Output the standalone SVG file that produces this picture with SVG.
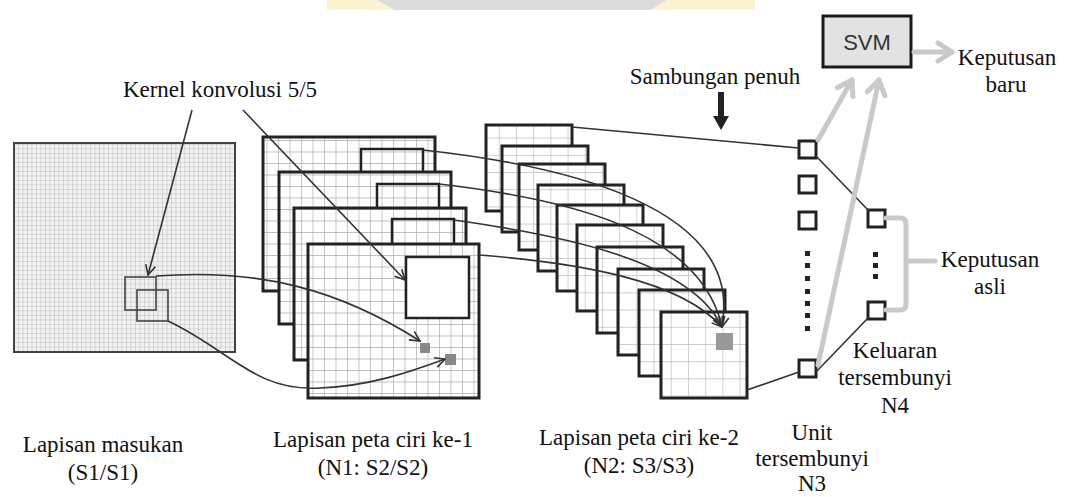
<svg xmlns="http://www.w3.org/2000/svg" width="1065" height="497" viewBox="0 0 1065 497">
<style>
.t{font-family:"Liberation Serif","Times New Roman",serif;font-size:23px;fill:#111;text-anchor:middle}
.frame{fill:none;stroke:#222;stroke-width:3}
.bg{fill:#fff}
.thin{fill:none;stroke:#333;stroke-width:1.6}
.grey{fill:none;stroke:#c9c9c9;stroke-width:5;stroke-linecap:round;stroke-linejoin:round}
.unit{fill:#fff;stroke:#222;stroke-width:3}
.dot{fill:#222}
</style>
<defs>
<pattern id="gFine" width="4.5" height="4.5" patternUnits="userSpaceOnUse"><rect width="4.5" height="4.5" fill="#f2f2f2"/><path d="M0,0V4.5M0,0H4.5" stroke="#b8b8b8" stroke-width="1"/></pattern>
<pattern id="gMid" width="11.5" height="11.5" patternUnits="userSpaceOnUse" x="2" y="2"><rect width="11.5" height="11.5" fill="#fff"/><path d="M0,0V11.5M0,0H11.5" stroke="#aaa" stroke-width="1.3"/></pattern>
<pattern id="gBig" width="17.2" height="17.2" patternUnits="userSpaceOnUse"><rect width="17.2" height="17.2" fill="#fff"/><path d="M0,0V17.2M0,0H17.2" stroke="#bbb" stroke-width="1.3"/></pattern>
<marker id="ah" viewBox="0 0 12 12" refX="11" refY="6" markerWidth="12" markerHeight="12" markerUnits="userSpaceOnUse" orient="auto"><path d="M1,1 L11,6 L1,11" fill="none" stroke="#333" stroke-width="1.6"/></marker>
<marker id="gh" viewBox="0 0 24 24" refX="19" refY="12" markerWidth="24" markerHeight="24" markerUnits="userSpaceOnUse" orient="auto"><path d="M5,3 L19,12 L5,21" fill="none" stroke="#c9c9c9" stroke-width="5" stroke-linecap="round" stroke-linejoin="round"/></marker>
</defs>
<rect width="1065" height="497" fill="#fff"/>
<g id="watermark">
<rect x="327" y="0" width="428" height="10" fill="#fbf3cf"/>
<path d="M377,0 H667 L650,10 H395 Z" fill="#dcdcdc"/>
</g>
<g id="input-layer">
<rect x="14" y="143" width="221" height="209" fill="url(#gFine)"/>
<rect x="14" y="143" width="221" height="209" fill="none" stroke="#444" stroke-width="2"/>
<rect x="125" y="277" width="31" height="33" fill="none" stroke="#444" stroke-width="1.6"/>
<rect x="137" y="290" width="31" height="31" fill="none" stroke="#444" stroke-width="1.6"/>
</g>
<g id="feature-map-1">
<rect x="263" y="137" width="172" height="154" fill="url(#gMid)"/><rect x="263" y="137" width="172" height="154" class="frame"/><rect x="361" y="149" width="62" height="61" fill="none" stroke="#222" stroke-width="2.5"/>
<rect x="279" y="172" width="172" height="152" fill="url(#gMid)"/><rect x="279" y="172" width="172" height="152" class="frame"/><rect x="377" y="184" width="62" height="61" fill="none" stroke="#222" stroke-width="2.5"/>
<rect x="294" y="208" width="172" height="152" fill="url(#gMid)"/><rect x="294" y="208" width="172" height="152" class="frame"/><rect x="392" y="219" width="62" height="61" fill="none" stroke="#222" stroke-width="2.5"/>
<rect x="308" y="244" width="171" height="154" fill="url(#gMid)"/><rect x="308" y="244" width="171" height="154" class="frame"/><rect x="406" y="257" width="63" height="61" fill="#fff" stroke="#222" stroke-width="2.5"/>
<rect x="420" y="343" width="10" height="10" fill="#888"/>
<rect x="445" y="354" width="11" height="11" fill="#888"/>
</g>
<g id="feature-map-2">
<rect x="486" y="125" width="86" height="86" fill="url(#gBig)"/><rect x="486" y="125" width="86" height="86" class="frame"/>
<rect x="502" y="146" width="86" height="86" fill="url(#gBig)"/><rect x="502" y="146" width="86" height="86" class="frame"/>
<rect x="519" y="164" width="86" height="86" fill="url(#gBig)"/><rect x="519" y="164" width="86" height="86" class="frame"/>
<rect x="538" y="185" width="86" height="86" fill="url(#gBig)"/><rect x="538" y="185" width="86" height="86" class="frame"/>
<rect x="557" y="205" width="86" height="86" fill="url(#gBig)"/><rect x="557" y="205" width="86" height="86" class="frame"/>
<rect x="577" y="225" width="86" height="86" fill="url(#gBig)"/><rect x="577" y="225" width="86" height="86" class="frame"/>
<rect x="597" y="247" width="86" height="86" fill="url(#gBig)"/><rect x="597" y="247" width="86" height="86" class="frame"/>
<rect x="618" y="269" width="86" height="86" fill="url(#gBig)"/><rect x="618" y="269" width="86" height="86" class="frame"/>
<rect x="639" y="290" width="86" height="86" fill="url(#gBig)"/><rect x="639" y="290" width="86" height="86" class="frame"/>
<rect x="661" y="312" width="86" height="86" fill="url(#gBig)"/><rect x="661" y="312" width="86" height="86" class="frame"/>
<rect x="716" y="333" width="17" height="17" fill="#999"/>
</g>
<g id="hidden-units-n3">
<rect x="799" y="141" width="17" height="17" class="unit"/>
<rect x="799" y="176" width="17" height="17" class="unit"/>
<rect x="799" y="212" width="17" height="17" class="unit"/>
<rect x="805" y="251" width="5" height="5" class="dot"/>
<rect x="805" y="263" width="5" height="5" class="dot"/>
<rect x="805" y="276" width="5" height="5" class="dot"/>
<rect x="805" y="289" width="5" height="5" class="dot"/>
<rect x="805" y="301" width="5" height="5" class="dot"/>
<rect x="805" y="313" width="5" height="5" class="dot"/>
<rect x="805" y="326" width="5" height="5" class="dot"/>
<rect x="799" y="360" width="17" height="17" class="unit"/>
</g>
<g id="hidden-outputs-n4">
<rect x="868" y="210" width="17" height="17" class="unit"/>
<rect x="873" y="252" width="5" height="5" class="dot"/>
<rect x="873" y="263" width="5" height="5" class="dot"/>
<rect x="873" y="274" width="5" height="5" class="dot"/>
<rect x="868" y="302" width="17" height="17" class="unit"/>
</g>
<g id="svm">
<rect x="823" y="16" width="88" height="51" fill="#e2e2e2" stroke="#1a1a1a" stroke-width="3"/>
<text x="867" y="50" style="font-family:'Liberation Sans',Arial,sans-serif;font-size:22px;fill:#333;text-anchor:middle">SVM</text>
</g>
<g id="connectors">
<path class="thin" d="M192,110 L148,275" marker-end="url(#ah)"/>
<path class="thin" d="M243,110 L405,280" marker-end="url(#ah)"/>
<path class="thin" d="M156,276 C260,268 340,290 420,341" marker-end="url(#ah)"/>
<path class="thin" d="M168,321 C230,350 255,392 320,388 C370,386 410,372 445,359" marker-end="url(#ah)"/>
<path class="thin" d="M423,150 C560,165 745,205 722,327" marker-end="url(#ah)"/>
<path class="thin" d="M439,184 C560,198 700,228 722,327" marker-end="url(#ah)"/>
<path class="thin" d="M454,220 C560,235 690,260 722,327" marker-end="url(#ah)"/>
<path class="thin" d="M479,255 C580,263 680,280 722,327" marker-end="url(#ah)"/>
<path class="thin" d="M572,127 L799,148"/>
<path class="thin" d="M747,390 L799,372"/>
<path class="thin" d="M816,156 L869,211"/>
<path class="thin" d="M816,372 L869,317"/>
<path class="grey" d="M818,140 L852,80" marker-end="url(#gh)"/>
<path class="grey" d="M818,365 L879,80" marker-end="url(#gh)"/>
<path class="grey" d="M914,52 L952,52" marker-end="url(#gh)"/>
<path class="grey" d="M886,218 H900 Q906,218 906,224 V304 Q906,310 900,310 H886 M906,261 H935"/>
<path d="M718,92 H724 V116 H729 L721,130 L713,116 H718 Z" fill="#222"/>
</g>
<g id="labels">
<text class="t" x="220" y="97">Kernel konvolusi 5/5</text>
<text class="t" x="715" y="84">Sambungan penuh</text>
<text class="t" x="1007" y="65">Keputusan</text>
<text class="t" x="1006" y="92">baru</text>
<text class="t" x="990" y="267">Keputusan</text>
<text class="t" x="990" y="294">asli</text>
<text class="t" x="895" y="358">Keluaran</text>
<text class="t" x="895" y="385">tersembunyi</text>
<text class="t" x="895" y="413">N4</text>
<text class="t" x="812" y="440">Unit</text>
<text class="t" x="812" y="466">tersembunyi</text>
<text class="t" x="812" y="491">N3</text>
<text class="t" x="103" y="452">Lapisan masukan</text>
<text class="t" x="103" y="480">(S1/S1)</text>
<text class="t" x="373" y="447">Lapisan peta ciri ke-1</text>
<text class="t" x="373" y="475">(N1: S2/S2)</text>
<text class="t" x="639" y="445">Lapisan peta ciri ke-2</text>
<text class="t" x="639" y="473">(N2: S3/S3)</text>
</g>
</svg>
